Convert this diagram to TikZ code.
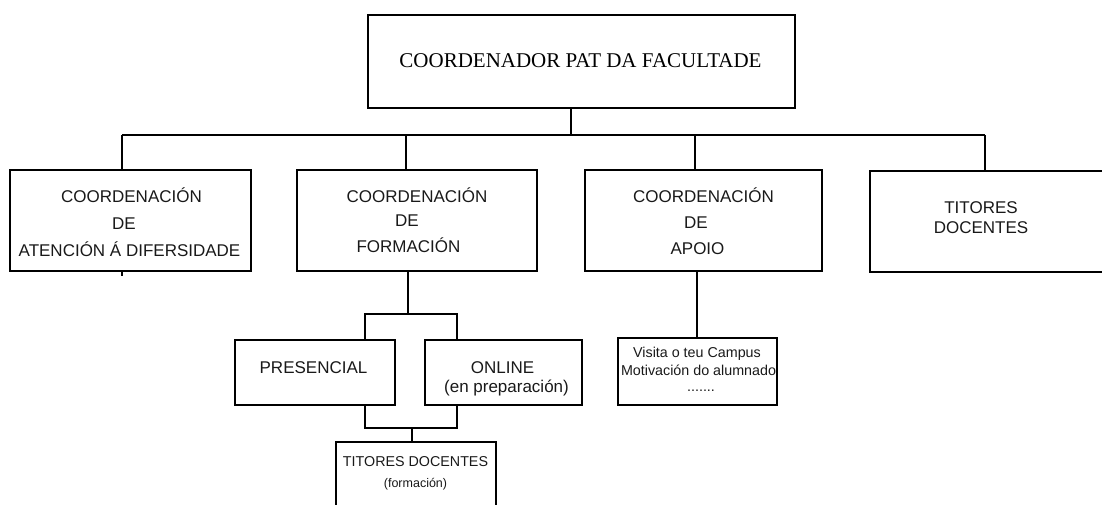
\documentclass[tikz,border=0pt]{standalone}
\usepackage{fontspec}
\setmainfont{Liberation Serif}
\newfontfamily\arial{Liberation Sans}
\begin{document}
\begin{tikzpicture}[x=1pt,y=-1pt,
  box/.style={draw=black,line width=2.4pt,rectangle,inner sep=0pt,anchor=center},
  conn/.style={draw=black,line width=2pt},
  big/.style={font=\arial\fontsize{17}{20}\selectfont,anchor=base,inner sep=0pt,text=black!90},
  small/.style={font=\arial\fontsize{14.3}{17}\selectfont,anchor=base,inner sep=0pt,text=black!90},
  tiny/.style={font=\arial\fontsize{12.5}{15}\selectfont,anchor=base,inner sep=0pt,text=black!90}]
\useasboundingbox (0,0) rectangle (1102,504);
\clip (0,0) rectangle (1102,504);
% boxes
\node[box,minimum width=427pt,minimum height=93pt] (top) at (581.5,61.5) {};
\node[box,minimum width=241pt,minimum height=101pt] (b1) at (130.5,220.5) {};
\node[box,minimum width=240pt,minimum height=101pt] (b2) at (417,220.5) {};
\node[box,minimum width=237pt,minimum height=101pt] (b3) at (703.5,220.5) {};
\node[box,minimum width=240pt,minimum height=101pt] (b4) at (990,221.5) {};
\node[box,minimum width=160pt,minimum height=65pt] (pres) at (315,372.5) {};
\node[box,minimum width=157pt,minimum height=65pt] (onl) at (503.5,372.5) {};
\node[box,minimum width=159pt,minimum height=67pt] (apo) at (697.5,371.5) {};
\node[box,minimum width=160pt,minimum height=90pt] (tdf) at (416,487) {};
% texts
\node[anchor=base,inner sep=0pt,font=\fontsize{21}{24}\selectfont] (ttop) at (580.5,67) {COORDENADOR PAT DA FACULTADE};
\node[big] (t1a) at (131.5,202) {COORDENACIÓN};
\node[big] (t1b) at (124,229) {DE};
\node[big] (t1c) at (129.5,256) {ATENCIÓN Á DIFERSIDADE};
\node[big] (t2a) at (417,202) {COORDENACIÓN};
\node[big] (t2b) at (407,226) {DE};
\node[big] (t2c) at (408.5,252) {FORMACIÓN};
\node[big] (t3a) at (703.5,202) {COORDENACIÓN};
\node[big] (t3b) at (696,228) {DE};
\node[big] (t3c) at (697.5,254) {APOIO};
\node[big] (t4a) at (981,213) {TITORES};
\node[big] (t4b) at (981,233) {DOCENTES};
\node[big] (tpres) at (313.5,373) {PRESENCIAL};
\node[big] (tonla) at (502.5,373) {ONLINE};
\node[big] (tonlb) at (506.5,392) {(en preparación)};
\node[small] (tapa) at (697,357) {Visita o teu Campus};
\node[small] (tapb) at (698.5,375) {Motivación do alumnado};
\node[small] (tapc) at (701,391) {.......};
\node[small] (ttda) at (415.5,466) {TITORES DOCENTES};
\node[tiny] (ttdb) at (415.5,487) {(formación)};
% connectors
\coordinate (bus) at (571,135);
\coordinate (j1) at (122,135);
\coordinate (j2) at (406,135);
\coordinate (j3) at (695,135);
\coordinate (j4) at (985,135);
\draw[conn] (top.south -| bus) -- (bus);
\draw[conn] (j1) -- (j4);
\draw[conn] (j1) -- (j1 |- b1.north);
\draw[conn] (j2) -- (j2 |- b2.north);
\draw[conn] (j3) -- (j3 |- b3.north);
\draw[conn] (j4) -- (j4 |- b4.north);
\coordinate (tick) at (122,276);
\draw[conn] (tick |- b1.south) -- (tick);
% formacion subtree
\coordinate (f0) at (408,314);
\coordinate (fl) at (365,314);
\coordinate (fr) at (457,314);
\draw[conn] (f0 |- b2.south) -- (f0);
\draw[conn] (fl |- pres.north) -- (fl) -- (fr) -- (fr |- onl.north);
\coordinate (gl) at (365,428);
\coordinate (gr) at (457,428);
\coordinate (g0) at (412,428);
\draw[conn] (gl |- pres.south) -- (gl) -- (gr) -- (gr |- onl.south);
\draw[conn] (g0) -- (g0 |- tdf.north);
% apoio
\coordinate (a0) at (697,300);
\draw[conn] (a0 |- b3.south) -- (a0 |- apo.north);
\end{tikzpicture}
\end{document}
